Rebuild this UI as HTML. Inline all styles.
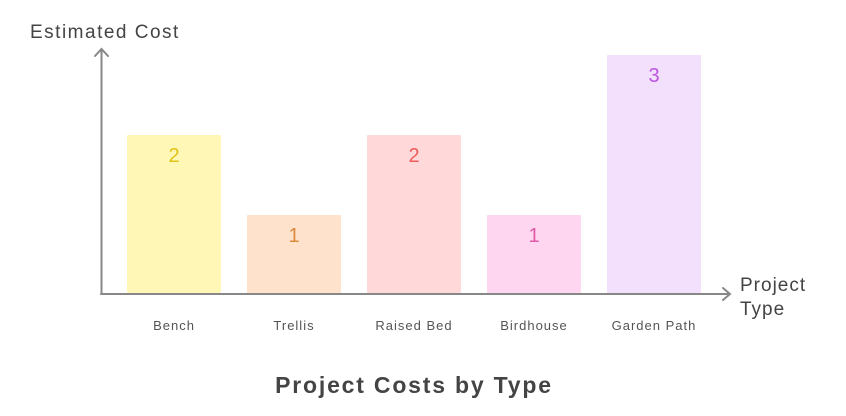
<!DOCTYPE html>
<html><head><meta charset="utf-8"><style>
body{margin:0;background:#fff;width:846px;height:411px;overflow:hidden}
svg text{font-family:"Liberation Sans",sans-serif}
</style></head><body>
<svg width="846" height="411" viewBox="0 0 846 411" xmlns="http://www.w3.org/2000/svg">
<rect width="846" height="411" fill="#fff"/>
<rect x="127" y="135" width="94" height="158" fill="#fff7b5" rx="1"/>
<rect x="247" y="215" width="94" height="78" fill="#fee2cc" rx="1"/>
<rect x="367" y="135" width="94" height="158" fill="#ffd9d9" rx="1"/>
<rect x="487" y="215" width="94" height="78" fill="#fed6ef" rx="1"/>
<rect x="607" y="55" width="94" height="238" fill="#f3e0fc" rx="1"/>
<g font-size="20" text-anchor="middle">
<text x="174" y="162" fill="#e1c316">2</text>
<text x="294" y="242" fill="#dc8a3c">1</text>
<text x="414" y="162" fill="#ef5a5a">2</text>
<text x="534" y="242" fill="#e05aa8">1</text>
<text x="654" y="82" fill="#bb55e0">3</text>
</g>
<g stroke="#888" stroke-width="2" fill="none" stroke-linecap="round">
<path d="M101.5 294 V49 M95 56 L101.5 49 L108 56"/>
<path d="M101 294 H730 M723 288 L730 294 L723 300"/>
</g>
<g font-size="13" fill="#555" text-anchor="middle" letter-spacing="1">
<text x="174" y="330">Bench</text>
<text x="294" y="330">Trellis</text>
<text x="414" y="330">Raised Bed</text>
<text x="534" y="330">Birdhouse</text>
<text x="654" y="330">Garden Path</text>
</g>
<text x="30" y="38" font-size="19" fill="#444" letter-spacing="1.5">Estimated Cost</text>
<text x="740" y="291" font-size="19" fill="#444" letter-spacing="1">Project</text>
<text x="740" y="315" font-size="19" fill="#444" letter-spacing="1">Type</text>
<text x="414" y="393" font-size="23" font-weight="bold" fill="#444" text-anchor="middle" letter-spacing="1.8">Project Costs by Type</text>
</svg>
</body></html>
